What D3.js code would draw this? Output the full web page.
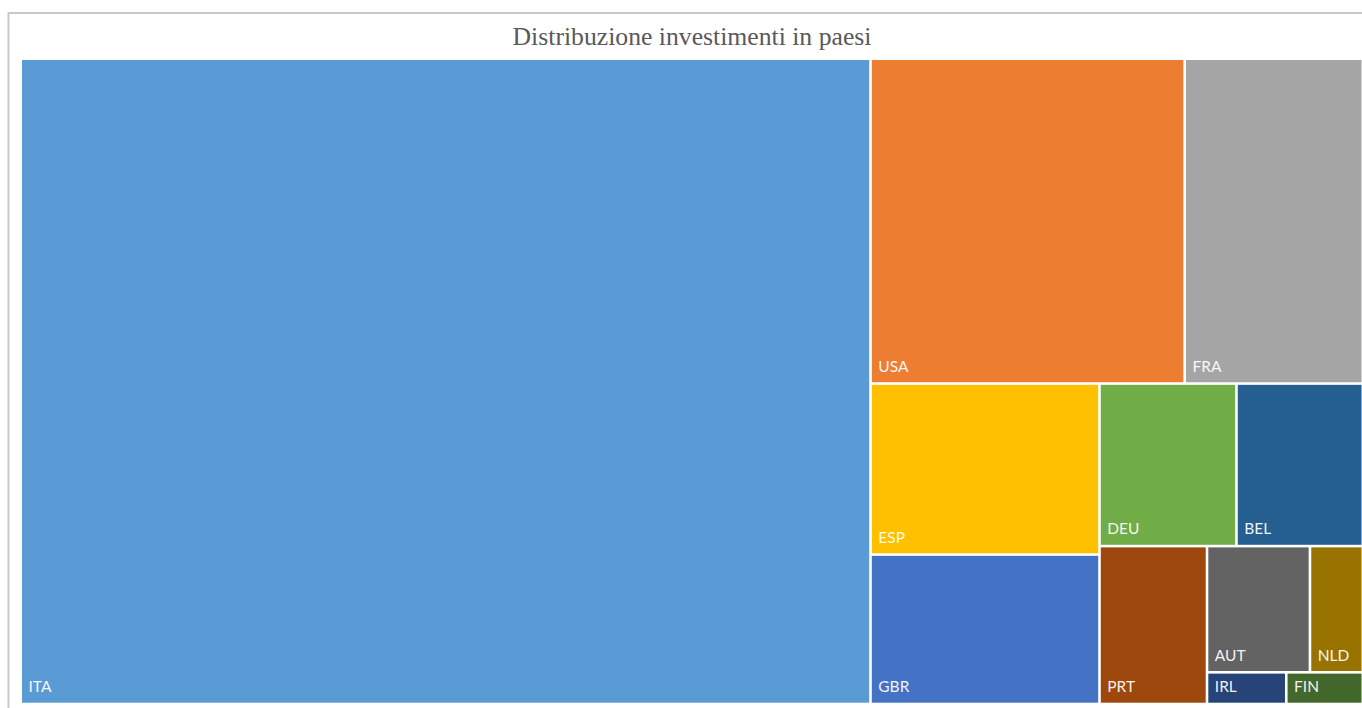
<!DOCTYPE html>
<html>
<head>
<meta charset="utf-8">
<script src="https://cdn.jsdelivr.net/npm/d3@7"></script>
<style>
  html, body { margin: 0; padding: 0; background: #ffffff; }
  svg { display: block; }
</style>
</head>
<body>
<svg id="chart" width="1362" height="708"></svg>
<script>
// Investment share by country (percent of total)
const countries = ["ITA", "USA", "FRA", "ESP", "GBR", "DEU", "BEL", "PRT", "AUT", "NLD", "IRL", "FIN"];
const shares    = [63.30, 11.78, 6.68, 4.52, 3.95, 2.57, 2.37, 1.96, 1.50, 0.77, 0.29, 0.28];
const colors    = ["#5B9BD5", "#ED7D31", "#A5A5A5", "#FFC000", "#4472C4", "#70AD47",
                   "#255E91", "#9E480E", "#636363", "#997300", "#264478", "#43682B"];
const title = "Distribuzione investimenti in paesi";

const plot = { x0: 22, y0: 60, x1: 1361.5, y1: 702.7 };

const svg = d3.select("#chart");

// chart frame
svg.append("rect")
  .attr("x", 8.5).attr("y", 13)
  .attr("width", 1400).attr("height", 720)
  .attr("fill", "#ffffff")
  .attr("stroke", "#c9c9c9")
  .attr("stroke-width", 2);

// title, sized to its frame width
const t = svg.append("text")
  .attr("x", 692).attr("y", 45)
  .attr("text-anchor", "middle")
  .attr("font-family", "'Liberation Serif', 'DejaVu Serif', serif")
  .attr("font-size", 22)
  .attr("fill", "#595959")
  .text(title);
const tw = t.node().getComputedTextLength();
t.attr("font-size", 22 * 359 / tw);

// treemap
const data = countries.map((c, i) => ({ name: c, value: shares[i], color: colors[i] }));
const root = d3.hierarchy({ children: data })
  .sum(d => d.value || 0)
  .sort((a, b) => b.value - a.value);

d3.treemap()
  .tile(d3.treemapSquarify.ratio(1.25))
  .size([plot.x1 - plot.x0, plot.y1 - plot.y0])
  .paddingInner(2.6)(root);

const g = svg.append("g").attr("transform", `translate(${plot.x0},${plot.y0})`);

const cell = g.selectAll("g.cell")
  .data(root.leaves())
  .join("g")
  .attr("class", "cell");

cell.append("rect")
  .attr("x", d => d.x0)
  .attr("y", d => d.y0)
  .attr("width", d => d.x1 - d.x0)
  .attr("height", d => d.y1 - d.y0)
  .attr("fill", d => d.data.color);

cell.append("text")
  .attr("x", d => d.x0 + 6.5)
  .attr("y", d => d.y1 - 10.5)
  .attr("font-family", "Lato, 'Open Sans', sans-serif")
  .attr("font-size", 15.5)
  .attr("fill", "#ffffff")
  .attr("fill-opacity", 0.95)
  .text(d => d.data.name);
</script>
</body>
</html>
